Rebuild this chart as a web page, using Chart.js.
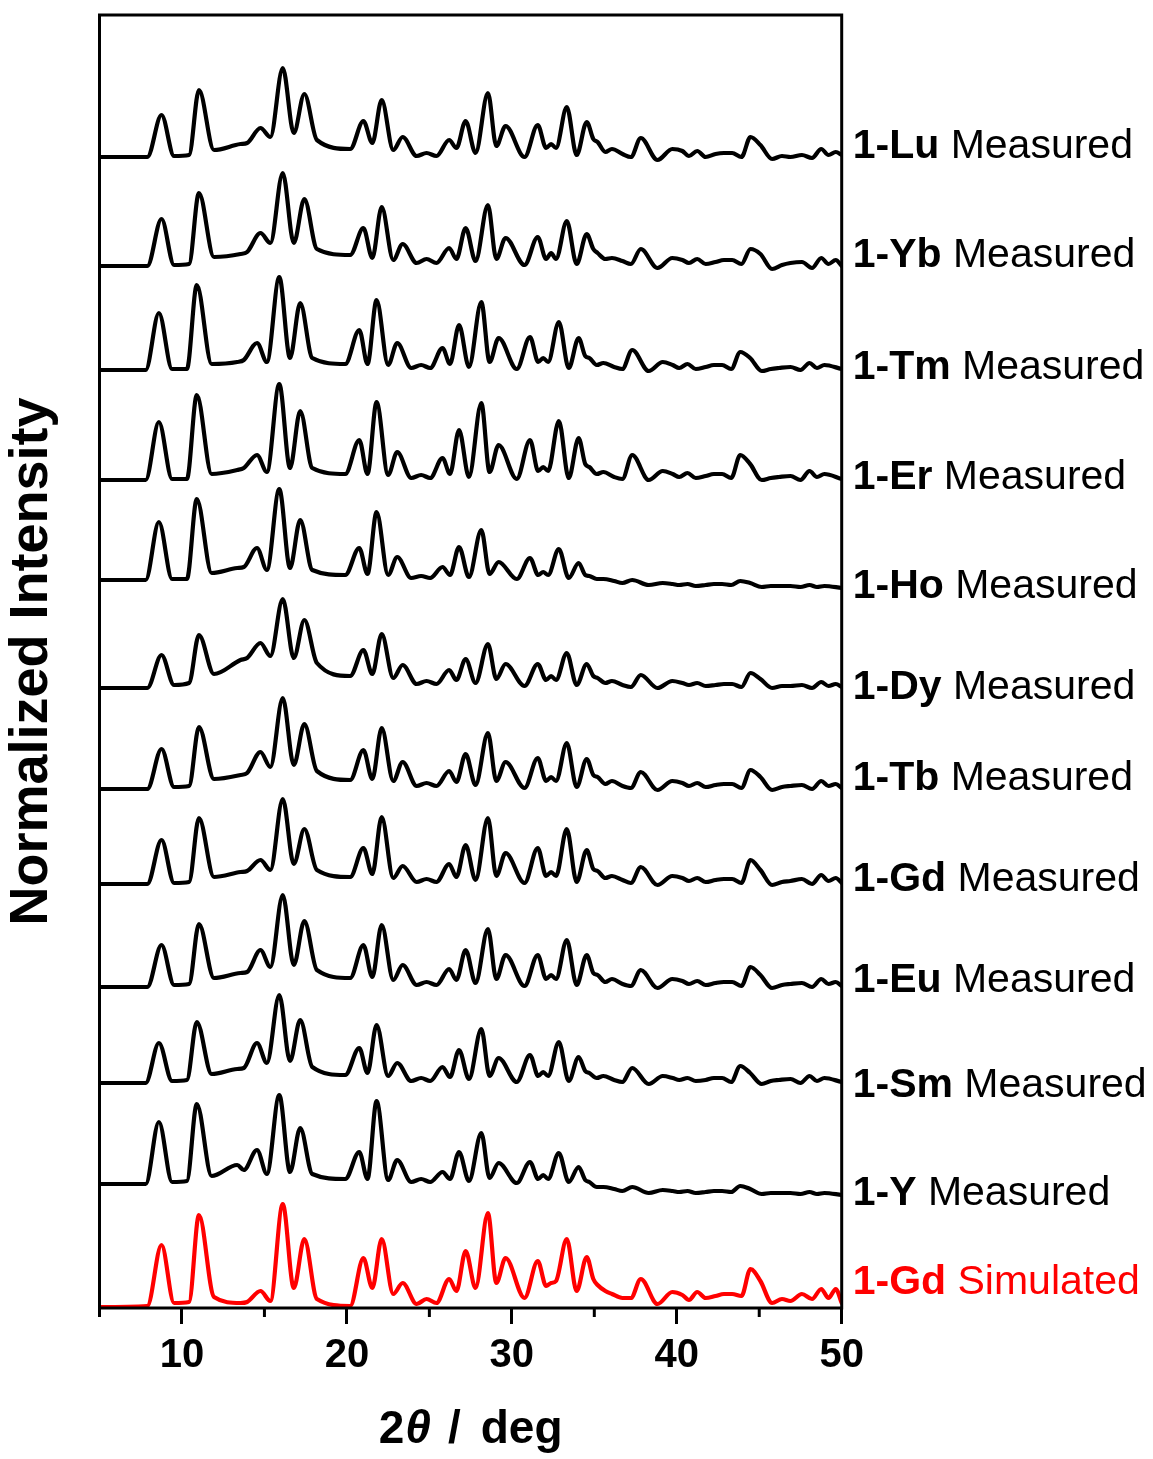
<!DOCTYPE html>
<html>
<head>
<meta charset="utf-8">
<script src="https://cdn.jsdelivr.net/npm/chart.js@4.4.0/dist/chart.umd.min.js"></script>
<style>
  html, body { margin: 0; padding: 0; background: #fff; }
  #wrap { width: 1153px; height: 1459px; }
</style>
</head>
<body>
<div id="wrap"><canvas id="xrd" width="1153" height="1459"></canvas></div>
<script>
// 2θ positions (deg) of the features traced for each pattern.
// Grid A: Lu, Yb, Dy, Tb, Gd, Eu and the simulated pattern.
const twoThetaA = [
  5.0, 7.9, 8.76, 9.52, 10.43, 11.03, 11.94, 13.55, 13.95, 14.76,
  15.36, 16.11, 16.78, 17.42, 18.18, 20.2, 21.0, 21.54, 22.11, 22.81,
  23.38, 24.23, 24.83, 25.43, 26.2, 26.64, 27.2, 27.8, 28.55, 29.06,
  29.62, 30.77, 31.57, 32.08, 32.38, 32.68, 33.33, 33.93, 34.54, 34.94,
  35.2, 35.67, 36.07, 36.71, 37.22, 37.82, 38.83, 39.73, 40.34, 40.74,
  41.24, 41.75, 42.35, 42.86, 43.36, 43.92, 44.47, 45.07, 45.78, 46.38,
  46.89, 47.59, 48.2, 48.76, 49.2, 49.64, 50.0
];
// Grid B: Tm, Er, Ho, Sm, Y (reflections shifted to lower angle).
const twoThetaB = [
  5.0, 7.8, 8.6, 9.4, 10.3, 10.9, 11.8, 13.35, 13.75, 14.55,
  15.15, 15.9, 16.55, 17.17, 17.9, 19.9, 20.75, 21.25, 21.8, 22.5,
  23.05, 23.9, 24.5, 25.05, 25.8, 26.25, 26.8, 27.4, 28.15, 28.65,
  29.2, 30.3, 31.1, 31.6, 31.9, 32.2, 32.85, 33.45, 34.05, 34.45,
  34.7, 35.15, 35.55, 36.2, 36.7, 37.3, 38.3, 39.15, 39.75, 40.15,
  40.65, 41.15, 41.75, 42.25, 42.75, 43.3, 43.85, 44.45, 45.15, 45.7,
  46.2, 46.9, 47.5, 48.05, 48.5, 48.95, 50.0
];

// Intensities above each pattern's own baseline (normalized units).
const intensLu = [
  0,0,42,1,2,67,7,13,14,29, 20,89,24,63,17,8,36,14,57,7,
  20,1,4,1,17,9,36,4,64,11, 31,0,32,9,13,9,50,2,35,18,
  15,5,8,3,0,19,-3,8,6,1, 6,0,3,4,4,0,20,12,-2,1, 0,2,-1,8,2,5,2
];
const intensYb = [
  0,0,47,1,2,73,9,12,14,33, 23,93,23,67,17,11,38,8,59,6,
  22,3,7,3,18,7,38,5,61,7, 28,1,29,7,13,7,45,2,32,17,
  13,7,8,5,2,17,-2,8,6,3, 7,2,4,6,6,2,17,12,-3,1, 3,4,-2,8,2,6,0
];
const intensTm = [
  0,0,57,1,1,85,6,8,10,27, 8,93,12,67,12,6,40,6,70,5,
  27,2,5,2,22,6,45,3,68,8, 32,1,33,8,12,8,48,2,32,14,
  12,5,7,3,1,20,-1,8,5,2, 6,1,3,5,5,1,18,12,-1,1, 2,3,0,7,2,5,1
];
const intensEr = [
  0,0,58,1,1,85,6,10,12,25, 8,96,12,69,12,6,40,6,78,5,
  28,2,5,2,22,6,50,3,77,8, 35,1,40,9,13,9,59,2,42,16,
  13,6,8,3,1,25,0,9,6,3, 7,2,4,6,6,2,25,16,0,2, 3,4,0,9,3,6,1
];
const intensHo = [
  0,0,58,1,1,81,7,12,13,32, 10,91,12,60,10,5,32,6,68,5,
  23,2,4,2,13,5,33,3,50,6, 18,1,22,5,8,5,31,2,17,5,
  4,1,1,-1,-3,0,-5,-3,-4,-5, -4,-6,-5,-4,-4,-5,-1,-3,-7,-6, -6,-6,-7,-5,-7,-6,-8
];
const intensDy = [
  0,0,33,3,5,53,14,28,30,45, 32,89,30,68,25,12,38,14,54,10,
  23,4,7,4,18,8,29,5,44,9, 24,2,24,8,12,8,35,3,24,12,
  10,5,7,3,1,13,0,7,5,3, 5,2,3,4,4,1,15,9,0,2, 2,3,0,6,2,4,1
];
const intensTb = [
  0,0,40,2,3,62,10,14,16,37, 22,91,24,65,18,9,39,10,61,8,
  27,3,6,3,18,7,35,4,56,8, 27,1,31,8,12,8,46,2,30,14,
  12,5,8,3,1,17,-1,8,6,3, 6,2,4,5,5,1,19,12,-1,2, 3,4,0,8,3,5,1
];
const intensGd = [
  0,0,44,1,2,66,7,12,13,24, 14,85,20,55,14,7,36,10,67,6,
  18,2,5,2,20,7,39,4,66,8, 31,1,36,8,12,8,55,2,34,15,
  13,6,8,4,1,17,-1,8,6,3, 6,2,4,5,5,1,24,14,-1,2, 3,5,0,9,3,6,1
];
const intensEu = [
  0,0,42,2,3,63,9,14,15,37, 20,92,22,66,17,9,42,10,62,7,
  22,2,5,2,18,7,37,4,58,8, 32,1,32,8,12,8,47,2,32,14,
  12,5,8,3,1,17,-1,8,6,3, 6,2,4,5,5,1,20,12,-1,2, 3,4,0,8,3,5,1
];
const intensSm = [
  0,0,40,2,3,61,9,14,15,40, 20,88,22,63,16,8,35,10,58,7,
  20,2,5,2,16,6,33,4,54,7, 25,1,28,7,11,7,41,2,26,12,
  10,5,7,3,1,15,-1,7,5,3, 5,2,3,5,5,1,17,10,-1,2, 3,4,0,7,2,5,1
];
const intensY = [
  0,0,62,2,3,80,8,19,14,34, 10,89,12,56,10,5,32,5,83,4,
  24,2,5,2,12,5,32,3,51,6, 21,1,22,5,9,5,31,2,17,4,
  2,-3,-3,-5,-7,-3,-9,-6,-7,-8, -7,-9,-8,-7,-7,-8,-2,-5,-10,-9, -9,-9,-10,-8,-10,-9,-11
];
const intensGdSim = [
  0,1,62,4,5,92,10,4,5,16, 6,103,19,68,8,1,49,19,68,13,
  24,3,8,4,28,16,56,19,94,24, 49,9,46,21,24,26,68,16,50,28,
  22,16,13,9,9,28,3,15,12,7, 15,9,11,13,13,11,38,26,4,8, 6,13,8,18,9,18,4
];

// Pattern names, kinds and which 2θ grid each uses (top to bottom).
const sampleNames = ['1-Lu', '1-Yb', '1-Tm', '1-Er', '1-Ho', '1-Dy', '1-Tb', '1-Gd', '1-Eu', '1-Sm', '1-Y', '1-Gd'];
const sampleKinds = ['Measured', 'Measured', 'Measured', 'Measured', 'Measured', 'Measured',
                     'Measured', 'Measured', 'Measured', 'Measured', 'Measured', 'Simulated'];
const sampleGrids = [twoThetaA, twoThetaA, twoThetaB, twoThetaB, twoThetaB, twoThetaA,
                     twoThetaA, twoThetaA, twoThetaA, twoThetaB, twoThetaB, twoThetaA];
const sampleIntens = [intensLu, intensYb, intensTm, intensEr, intensHo, intensDy,
                      intensTb, intensGd, intensEu, intensSm, intensY, intensGdSim];
// Vertical stacking offset of each pattern.
const stackOffsets = [1151, 1042, 938, 828, 728, 620, 519, 424, 321, 225, 124, 1];

// X axis ticks.
const majorTicks = [10, 20, 30, 40, 50];
const minorTicks = [5, 15, 25, 35, 45];

// Layout: level of each label's baseline on the intensity axis.
const labelLevels = [1150, 1041, 929, 819, 710, 609, 518, 417, 316, 211, 103, 14];
const lineColors = ['#000', '#000', '#000', '#000', '#000', '#000', '#000', '#000', '#000', '#000', '#000', '#ff0000'];

const FONT = '"Liberation Sans", Arial, sans-serif';

const datasets = sampleNames.map((name, i) => ({
  label: name + ' ' + sampleKinds[i],
  data: sampleGrids[i].map((t, j) => ({ x: t, y: stackOffsets[i] + sampleIntens[i][j] })),
  borderColor: lineColors[i],
  borderWidth: 4.2,
  borderJoinStyle: 'round',
  borderCapStyle: 'round',
  pointRadius: 0,
  fill: false,
  cubicInterpolationMode: 'monotone'
}));

// Frame, minor ticks, series labels and the 2θ axis title.
const decor = {
  id: 'decor',
  afterDraw(chart) {
    const { ctx, chartArea: a, scales: { x, y } } = chart;
    ctx.save();
    ctx.strokeStyle = '#000';
    ctx.lineWidth = 3;
    ctx.strokeRect(a.left, a.top, a.right - a.left, a.bottom - a.top);

    minorTicks.forEach(v => {
      const px = x.getPixelForValue(v);
      ctx.beginPath();
      ctx.moveTo(px, a.bottom);
      ctx.lineTo(px, a.bottom + 9);
      ctx.stroke();
    });

    ctx.textBaseline = 'alphabetic';
    ctx.textAlign = 'left';
    sampleNames.forEach((name, i) => {
      const py = y.getPixelForValue(labelLevels[i]);
      const px = a.right + 11;
      ctx.fillStyle = lineColors[i];
      ctx.font = 'bold 41px ' + FONT;
      ctx.fillText(name, px, py);
      const w = ctx.measureText(name).width;
      ctx.font = '41px ' + FONT;
      ctx.fillText(' ' + sampleKinds[i], px + w, py);
    });

    // "2θ / deg" with italic θ
    const parts = [
      { t: '2', f: 'bold 46px ' + FONT, gap: 0 },
      { t: 'θ', f: 'italic bold 46px ' + FONT, gap: 1 },
      { t: '/', f: 'bold 46px ' + FONT, gap: 17 },
      { t: 'deg', f: 'bold 46px ' + FONT, gap: 20 }
    ];
    let total = 0;
    parts.forEach(p => { ctx.font = p.f; p.w = ctx.measureText(p.t).width; total += p.gap + p.w; });
    let cx = (a.left + a.right) / 2 - total / 2;
    ctx.fillStyle = '#000';
    parts.forEach(p => {
      cx += p.gap;
      ctx.font = p.f;
      ctx.fillText(p.t, cx, 1443);
      cx += p.w;
    });
    ctx.restore();
  }
};

new Chart(document.getElementById('xrd'), {
  type: 'line',
  data: { datasets },
  options: {
    responsive: false,
    animation: false,
    parsing: false,
    layout: { padding: { top: 15, right: 311.3, bottom: 0, left: 0 } },
    plugins: { legend: { display: false }, tooltip: { enabled: false } },
    scales: {
      x: {
        type: 'linear',
        min: 5,
        max: 50,
        afterFit(scale) { scale.height = 151; },
        border: { display: false },
        grid: {
          drawOnChartArea: false,
          drawTicks: true,
          tickLength: 16,
          tickWidth: 3,
          tickColor: c => (c.tick && majorTicks.includes(c.tick.value)) ? '#000' : 'rgba(0,0,0,0)'
        },
        ticks: {
          stepSize: 5,
          autoSkip: false,
          maxRotation: 0,
          padding: 8,
          color: '#000',
          font: { family: FONT, weight: 'bold', size: 40 },
          callback: v => majorTicks.includes(v) ? String(v) : ''
        },
        title: { display: false }
      },
      y: {
        type: 'linear',
        min: 0,
        max: 1293,
        afterFit(scale) { scale.width = 99.5; },
        border: { display: false },
        grid: { display: false },
        ticks: { display: false },
        title: {
          display: true,
          text: 'Normalized Intensity',
          color: '#000',
          padding: 0,
          font: { family: FONT, weight: 'bold', size: 54 }
        }
      }
    }
  },
  plugins: [decor]
});
</script>
</body>
</html>
